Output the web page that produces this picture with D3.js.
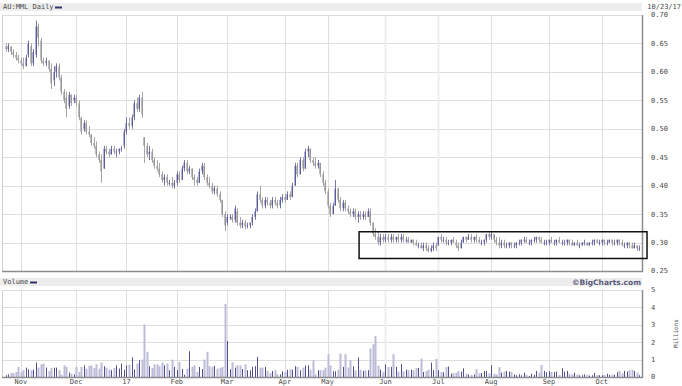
<!DOCTYPE html>
<html><head><meta charset="utf-8">
<script src="https://cdn.jsdelivr.net/npm/d3@7/dist/d3.min.js"></script>
<style>
body{margin:0;background:#fff}
svg{display:block}
text{font-family:"DejaVu Sans Mono",monospace;font-size:7px;fill:#4a4a4a}
</style>
</head><body>
<svg id="chart" width="682" height="386"></svg>
<script>
// ---------------- DATA ----------------
const title = "AU:MML Daily";
const lastDateLabel = "10/23/17";
const volumeTitle = "Volume";
const credit = "\u00A9BigCharts.com";
const volumeUnit = "Millions";
const startDate = "2016-10-24";
const endDate = "2017-10-23";
const holidays = ["2016-12-26","2016-12-27","2017-01-02","2017-01-26","2017-04-14","2017-04-17","2017-04-25","2017-06-12"];
const monthLabels = ["Nov","Dec","17","Feb","Mar","Apr","May","Jun","Jul","Aug","Sep","Oct"];
const priceTicks = [0.25,0.30,0.35,0.40,0.45,0.50,0.55,0.60,0.65,0.70];
const volumeTicks = [0,1,2,3,4,5];
// daily [open, high, low, close]
const ohlc = [
[.645,.650,.635,.640],[.640,.650,.635,.645],[.645,.645,.630,.635],[.635,.640,.625,.630],[.630,.635,.620,.625],[.625,.630,.615,.620],
[.620,.625,.610,.615],[.615,.625,.605,.610],[.610,.630,.610,.625],[.630,.655,.625,.650],[.645,.650,.610,.615],[.615,.640,.610,.635],
[.630,.690,.625,.680],[.680,.685,.645,.660],[.655,.660,.615,.620],[.620,.625,.610,.615],[.615,.625,.610,.620],[.620,.620,.600,.605],
[.605,.615,.570,.580],[.585,.610,.575,.600],[.600,.615,.590,.610],[.610,.615,.585,.590],[.590,.595,.560,.565],[.565,.570,.545,.550],
[.555,.565,.520,.535],[.540,.565,.535,.560],[.560,.560,.540,.545],[.550,.560,.545,.555],
[.555,.560,.540,.545],[.545,.550,.515,.520],[.520,.520,.490,.495],[.500,.515,.495,.510],[.510,.515,.490,.495],[.495,.505,.485,.490],
[.490,.490,.470,.475],[.475,.485,.465,.470],[.470,.478,.450,.455],[.455,.460,.440,.445],[.445,.455,.405,.425],[.430,.470,.430,.465],
[.465,.470,.455,.460],[.460,.465,.450,.455],[.455,.470,.455,.465],[.465,.470,.455,.460],[.460,.465,.450,.460],[.460,.465,.455,.465],
[.465,.470,.460,.465],[.470,.500,.465,.495],
[.495,.520,.490,.510],[.510,.520,.500,.505],[.505,.525,.500,.520],[.520,.550,.515,.545],[.545,.555,.530,.535],[.535,.560,.530,.555],
[.555,.565,.520,.525],[.485,.485,.440,.470],[.470,.475,.450,.455],[.455,.470,.445,.460],[.460,.465,.440,.445],[.445,.450,.430,.435],
[.435,.445,.425,.430],[.430,.440,.415,.420],[.420,.425,.405,.410],[.410,.420,.400,.415],[.415,.420,.400,.405],[.405,.410,.400,.405],
[.405,.415,.395,.400],[.400,.410,.395,.405],
[.405,.425,.400,.420],[.420,.425,.405,.410],[.410,.435,.410,.430],[.430,.445,.425,.440],[.440,.445,.420,.425],[.425,.435,.420,.430],
[.430,.430,.410,.415],[.415,.420,.400,.410],[.410,.415,.400,.405],[.405,.430,.405,.425],[.425,.440,.420,.435],[.435,.440,.410,.415],
[.415,.420,.400,.405],[.405,.415,.395,.400],[.400,.405,.385,.390],[.390,.400,.385,.395],[.395,.400,.380,.385],[.385,.390,.370,.375],
[.375,.375,.345,.350],[.350,.355,.320,.330],
[.335,.350,.330,.345],[.345,.350,.340,.345],[.345,.350,.335,.340],[.340,.365,.335,.360],[.355,.360,.330,.335],[.335,.345,.325,.330],
[.330,.340,.325,.335],[.335,.340,.323,.328],[.330,.335,.325,.330],[.330,.335,.325,.335],[.335,.350,.330,.345],[.345,.360,.340,.355],
[.355,.390,.355,.385],[.385,.400,.370,.375],[.375,.380,.360,.365],[.365,.380,.360,.375],[.375,.380,.365,.370],[.370,.375,.360,.365],
[.365,.380,.360,.375],[.375,.380,.365,.370],[.370,.375,.360,.365],[.365,.380,.360,.375],[.375,.385,.370,.380],
[.380,.385,.370,.375],[.375,.390,.375,.385],[.385,.390,.375,.380],[.380,.405,.380,.400],[.400,.440,.400,.435],[.435,.440,.415,.420],
[.420,.450,.420,.445],[.445,.450,.425,.430],[.430,.465,.430,.460],[.460,.470,.450,.465],[.465,.465,.440,.445],[.445,.450,.435,.440],
[.440,.450,.430,.435],[.435,.445,.430,.440],[.440,.440,.415,.420],[.420,.425,.400,.405],[.405,.410,.385,.390],
[.390,.395,.360,.365],[.365,.370,.345,.350],[.350,.370,.350,.365],[.365,.410,.365,.395],[.395,.395,.370,.375],[.375,.380,.355,.360],
[.360,.375,.355,.370],[.370,.375,.355,.360],[.360,.365,.350,.355],[.355,.360,.345,.350],[.350,.360,.345,.355],[.355,.360,.340,.345],
[.345,.355,.335,.350],[.350,.355,.340,.345],[.345,.355,.340,.350],[.350,.355,.340,.345],[.345,.360,.345,.355],[.355,.360,.330,.335],
[.335,.335,.310,.315],[.315,.325,.305,.310],[.310,.320,.295,.300],[.300,.315,.295,.310],[.310,.315,.300,.305],
[.305,.315,.300,.310],[.310,.315,.300,.305],[.305,.315,.300,.310],[.310,.315,.300,.305],[.305,.310,.300,.310],[.310,.315,.300,.305],
[.305,.315,.300,.310],[.310,.315,.300,.305],[.305,.310,.300,.305],[.305,.310,.300,.300],[.300,.305,.300,.305],[.305,.305,.295,.300],
[.300,.305,.295,.295],[.295,.300,.290,.295],[.295,.300,.290,.290],[.290,.300,.285,.295],[.295,.300,.285,.290],[.290,.295,.283,.285],
[.285,.295,.283,.290],[.290,.300,.285,.295],[.295,.300,.285,.290],
[.295,.310,.295,.310],[.310,.315,.300,.305],[.305,.310,.300,.305],[.305,.310,.295,.300],[.300,.305,.295,.300],[.300,.305,.295,.305],
[.305,.310,.300,.300],[.300,.305,.290,.295],[.295,.300,.285,.290],[.290,.305,.290,.300],[.300,.310,.300,.310],[.310,.310,.300,.305],
[.305,.315,.305,.310],[.310,.315,.300,.305],[.305,.310,.300,.310],[.310,.315,.300,.305],[.305,.310,.300,.300],[.300,.305,.295,.300],
[.300,.305,.295,.305],[.305,.315,.300,.315],[.315,.318,.305,.310],
[.310,.320,.305,.315],[.315,.315,.300,.305],[.305,.310,.295,.300],[.300,.310,.290,.295],[.295,.305,.290,.300],[.300,.305,.290,.295],
[.295,.300,.290,.295],[.295,.300,.290,.300],[.300,.300,.290,.295],[.295,.300,.290,.295],[.295,.300,.290,.300],[.300,.305,.295,.300],
[.300,.305,.295,.305],[.305,.310,.300,.305],[.305,.310,.300,.300],[.300,.305,.295,.300],[.300,.305,.295,.305],[.305,.310,.300,.305],
[.305,.310,.300,.310],[.310,.310,.300,.305],[.305,.310,.300,.300],[.300,.305,.295,.300],[.300,.305,.295,.300],
[.300,.305,.295,.305],[.305,.310,.300,.300],[.300,.305,.295,.300],[.300,.305,.295,.305],[.305,.310,.300,.300],[.300,.305,.295,.300],
[.300,.305,.295,.300],[.300,.305,.295,.305],[.305,.305,.295,.300],[.300,.305,.295,.295],[.295,.300,.295,.300],[.300,.305,.295,.295],
[.295,.300,.290,.295],[.295,.300,.295,.300],[.300,.305,.295,.300],[.300,.300,.295,.295],[.295,.300,.295,.300],[.300,.305,.295,.300],
[.300,.305,.295,.305],[.305,.305,.300,.300],[.300,.305,.295,.300],
[.300,.305,.295,.305],[.305,.305,.295,.300],[.300,.305,.295,.300],[.300,.305,.300,.305],[.305,.305,.295,.300],[.300,.305,.295,.300],
[.300,.305,.295,.305],[.305,.305,.295,.300],[.300,.305,.295,.295],[.295,.300,.290,.295],[.295,.300,.290,.300],[.300,.300,.290,.295],
[.295,.300,.290,.290],[.290,.300,.290,.295],[.295,.295,.285,.290],[.290,.295,.285,.290]
];
// daily volume, millions of shares
const volume = [
.10,.15,.23,.23,.29,.58,
.29,.39,.54,.44,.39,.42,.83,.54,.73,.77,.54,.35,.52,.54,.54,.39,.13,.67,.58,.25,.19,.15,
.58,.29,.58,.67,.48,.64,.67,.52,.73,.48,.83,.62,.54,.44,.39,.52,.67,.48,.77,.42,
.67,.71,1.12,.44,.77,.96,1.00,3.02,1.45,.62,.52,.73,.73,.62,.83,.67,.77,.39,1.00,.58,
.39,.87,.46,.13,.48,1.48,.58,.67,.29,.58,.46,1.00,1.45,.62,.58,.64,.48,.52,.58,4.20,
2.06,.44,.85,.54,.67,.67,.46,.73,.39,.39,.58,.62,1.16,.54,.54,.58,.35,.23,.35,.39,.15,.15,.33,
.29,.42,.44,.42,.62,.58,.39,.54,.66,.67,.42,.96,.15,.39,.39,.39,.54,
1.31,.67,.33,.33,.42,1.35,.58,1.31,.54,.96,.62,.39,1.12,.42,.35,.39,.39,1.64,1.89,2.35,.66,.42,.29,
.73,.58,.58,1.31,.58,.31,.75,.33,.42,.39,.42,.39,.52,.52,1.06,.29,.35,.42,.83,.39,1.04,
.39,.29,.27,.58,.60,.19,.23,.25,.35,.31,.50,.19,.15,.12,.15,.46,.21,.23,.35,.35,.21,
.67,.19,.15,.56,.25,.31,.35,.31,.29,.15,.10,.15,.10,.25,.12,.06,.19,.12,.35,.25,.69,.35,.27,
.33,.29,.29,.31,.12,.50,.31,.35,.19,.15,.25,.15,.10,.10,.15,.12,.08,.10,.23,.12,.10,
.10,.12,.19,.12,.15,.12,.27,.35,.21,.35,.31,.39,.42,.35,.25,.10
];
// boxed region drawn on the chart: trading-day index range and price range
const highlightBox = {fromDay: 140.5, toDay: 255, top: 0.319, bottom: 0.272};

// ---------------- LAYOUT ----------------
const plotL = 2, plotR = 642;
const price = {top: 15, bottom: 271};
const vol = {top: 290, bottom: 377};

const parse = d3.timeParse("%Y-%m-%d"), fmt = d3.timeFormat("%Y-%m-%d");
const days = d3.timeDay.range(parse(startDate), d3.timeDay.offset(parse(endDate), 1))
  .filter(d => d.getDay() % 6 !== 0 && !holidays.includes(fmt(d)));
const n = days.length;

const x = d3.scaleLinear().domain([-1.5, n]).range([plotL, plotR]);
const yP = d3.scaleLinear().domain([0.25, 0.70]).range([price.bottom, price.top]);
const yV = d3.scaleLinear().domain([0, 5]).range([vol.bottom, vol.top]);

const monthStarts = [];
days.forEach((d, i) => { if (i > 0 && d.getMonth() !== days[i - 1].getMonth()) monthStarts.push(i); });

const svg = d3.select("#chart");
svg.append("rect").attr("width", 682).attr("height", 386).attr("fill", "#fff");

// header bands
svg.append("rect").attr("x", 0).attr("y", 3).attr("width", plotR).attr("height", 8).attr("fill", "#ededed");
svg.append("rect").attr("x", 0).attr("y", 278).attr("width", plotR).attr("height", 8).attr("fill", "#ededed");

function grid(g, y, ticks, top, bottom) {
  g.selectAll("line.h").data(ticks).join("line").attr("class", "h")
    .attr("x1", plotL).attr("x2", plotR)
    .attr("y1", d => Math.round(y(d)) + 0.5).attr("y2", d => Math.round(y(d)) + 0.5)
    .attr("stroke", "#dedede").attr("stroke-width", 1);
  g.selectAll("line.v").data(monthStarts).join("line").attr("class", "v")
    .attr("x1", d => Math.round(x(d)) + 0.5).attr("x2", d => Math.round(x(d)) + 0.5)
    .attr("y1", top).attr("y2", bottom)
    .attr("stroke", (d, i) => (i === 7 || i === 8) ? "#eeeeee" : "#dedede")
    .attr("stroke-width", (d, i) => (i === 7 || i === 8) ? 2 : 1);
}
grid(svg.append("g"), yP, priceTicks, price.top, price.bottom);
grid(svg.append("g"), yV, volumeTicks, vol.top, vol.bottom);

svg.append("line").attr("x1", plotL + 0.5).attr("x2", plotL + 0.5).attr("y1", price.top).attr("y2", price.bottom).attr("stroke", "#d0d0d0");
svg.append("line").attr("x1", plotL + 0.5).attr("x2", plotL + 0.5).attr("y1", vol.top).attr("y2", vol.bottom).attr("stroke", "#d0d0d0");

// price bars
const gP = svg.append("g");
ohlc.forEach((d, i) => {
  const [o, h, l, c] = d;
  const up = c >= o;
  const cx = Math.round(x(i));
  gP.append("rect").attr("x", cx).attr("y", yP(h)).attr("width", 1)
    .attr("height", Math.max(1, yP(l) - yP(h))).attr("fill", up ? "#7676aa" : "#a6a6a6");
  const top = yP(Math.max(o, c)), bot = yP(Math.min(o, c));
  gP.append("rect").attr("x", cx - 1).attr("y", top).attr("width", 2)
    .attr("height", Math.max(1, bot - top)).attr("fill", up ? "#b4b4d6" : "#bdbdbd");
  gP.append("rect").attr("x", cx).attr("y", top).attr("width", 1)
    .attr("height", Math.max(1, bot - top)).attr("fill", up ? "#5c5c96" : "#999999");
});

// volume bars
const gV = svg.append("g");
volume.forEach((v, i) => {
  const up = i === 0 ? true : ohlc[i][3] >= ohlc[i - 1][3];
  const cx = Math.round(x(i));
  gV.append("rect").attr("x", up ? cx : cx - 0.5).attr("y", yV(v)).attr("width", up ? 1 : 2)
    .attr("height", Math.max(0, yV(0) - yV(v))).attr("fill", up ? "#50508a" : "#bcbcd8");
});

// right / bottom borders
[[price.top, price.bottom], [vol.top, vol.bottom]].forEach(([t, b]) => {
  svg.append("line").attr("x1", plotR + 0.5).attr("x2", plotR + 0.5).attr("y1", t).attr("y2", b + 1).attr("stroke", "#8c8c8c").attr("stroke-width", 1.5);
  svg.append("line").attr("x1", plotL).attr("x2", plotR + 1).attr("y1", b + 0.5).attr("y2", b + 0.5).attr("stroke", "#8c8c8c").attr("stroke-width", 1.5);
  svg.append("line").attr("x1", plotL).attr("x2", plotR).attr("y1", t + 0.5).attr("y2", t + 0.5).attr("stroke", "#dcdcdc");
});

// highlight rectangle
svg.append("rect")
  .attr("x", x(highlightBox.fromDay)).attr("y", yP(highlightBox.top))
  .attr("width", x(highlightBox.toDay) - x(highlightBox.fromDay))
  .attr("height", yP(highlightBox.bottom) - yP(highlightBox.top))
  .attr("fill", "none").attr("stroke", "#111").attr("stroke-width", 1.5);

// axes text
const fmtP = d3.format(".2f");
svg.append("g").selectAll("text").data(priceTicks).join("text")
  .attr("x", 651).attr("y", d => yP(d)).attr("dy", "0.35em").text(d => fmtP(d));
svg.append("g").selectAll("text").data(volumeTicks).join("text")
  .attr("x", 651).attr("y", d => yV(d)).attr("dy", "0.35em").text(d => d);
svg.append("text").attr("transform", `translate(676,${(vol.top + vol.bottom) / 2}) rotate(-90)`)
  .attr("text-anchor", "middle").attr("dy", "0.35em").style("font-size", "6px").text(volumeUnit);
svg.append("g").selectAll("text").data(monthStarts).join("text")
  .attr("x", d => x(d)).attr("y", 382).attr("text-anchor", "middle").attr("dy", "0.35em")
  .text((d, i) => monthLabels[i]);

// titles
svg.append("text").attr("x", 3).attr("y", 7).attr("dy", "0.35em").text(title);
svg.append("line").attr("x1", 55).attr("x2", 62).attr("y1", 7.5).attr("y2", 7.5).attr("stroke", "#33336e").attr("stroke-width", 2);
svg.append("text").attr("x", 681).attr("y", 7).attr("dy", "0.35em").attr("text-anchor", "end").text(lastDateLabel);
svg.append("text").attr("x", 3).attr("y", 282).attr("dy", "0.35em").text(volumeTitle);
svg.append("line").attr("x1", 30).attr("x2", 37).attr("y1", 282.5).attr("y2", 282.5).attr("stroke", "#33336e").attr("stroke-width", 2);
svg.append("text").attr("x", 641).attr("y", 282).attr("dy", "0.35em").attr("text-anchor", "end")
  .style("font-family", "'DejaVu Sans',sans-serif").style("font-weight", "bold").style("font-size", "7.5px").style("fill", "#5a5a7c")
  .text(credit);
</script>
</body></html>
